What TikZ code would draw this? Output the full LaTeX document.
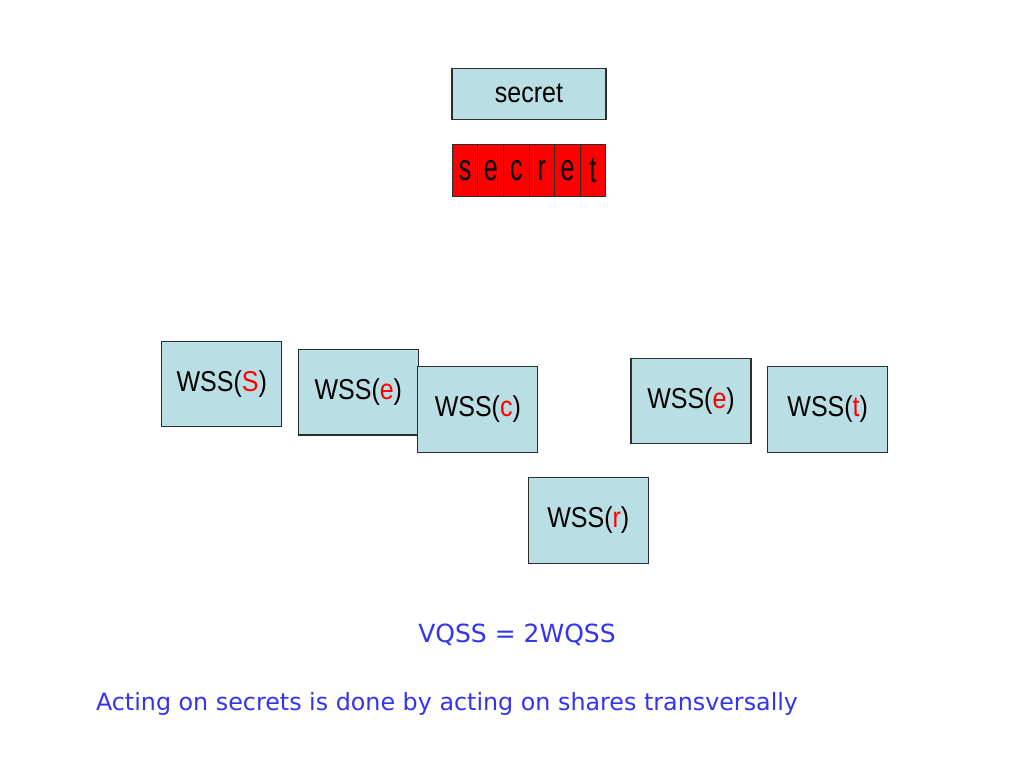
\documentclass[tikz,border=0pt]{standalone}
\usepackage{fontspec}
\usepackage{graphicx}
\setmainfont{Liberation Sans}
\newfontfamily\notefont{DejaVu Sans}
\usetikzlibrary{positioning}

\definecolor{shareblue}{RGB}{185,222,227}
\definecolor{noteblue}{RGB}{51,51,240}
\definecolor{framegray}{RGB}{45,45,45}

\newcommand{\tall}[1]{\scalebox{1}[1.15]{#1}}
\newcommand{\share}[1]{\tall{WSS(\textcolor{red}{#1})}}

\tikzset{
  sharebox/.style={draw=framegray, fill=shareblue, line width=1.2pt, inner sep=0pt,
    minimum width=120pt, minimum height=85.5pt, font=\fontsize{25}{30}\selectfont},
  letterbox/.style={draw=framegray, fill=red, line width=1pt, inner sep=0pt,
    minimum width=25.6pt, minimum height=51.7pt, font=\fontsize{25}{30}\selectfont},
  note/.style={text=noteblue, inner sep=0pt, font=\notefont\fontsize{25}{30}\selectfont},
}

\begin{document}
\begin{tikzpicture}[x=1pt,y=-1pt]
    \useasboundingbox (0,0) rectangle (1024,768);
    % Nodes
    \node[sharebox, minimum width=154pt, minimum height=51pt] (secret) at (529,93.8) {\tall{secret}} ; %
    \foreach \ch [count=\i] in {s,e,c,r,e,t}
      \node[letterbox] (cell\i) at (452.3+25.6*\i-12.8,170.2) {\scalebox{1}[1.5]{\ch}} ; %
    \node[sharebox] (wssS) at (221.7,384) {\share{S}} ; %
    \node[sharebox] (wssE) at (358.3,392.2) {\share{e}} ; %
    \node[sharebox] (wssC) at (477.8,409.5) {\share{c}} ; %
    \node[sharebox] (wssR) at (588.3,520.5) {\share{r}} ; %
    \node[sharebox] (wssE2) at (691,401) {\share{e}} ; %
    \node[sharebox] (wssT) at (827.7,409.5) {\share{t}} ; %
    \node[note] (vqss) at (517,635) {VQSS = 2WQSS} ; %
    \node[note, font=\notefont\fontsize{23.8}{28}\selectfont] (acting) at (447,704) {Acting on secrets is done by acting on shares transversally} ; %
\end{tikzpicture}
\end{document}
